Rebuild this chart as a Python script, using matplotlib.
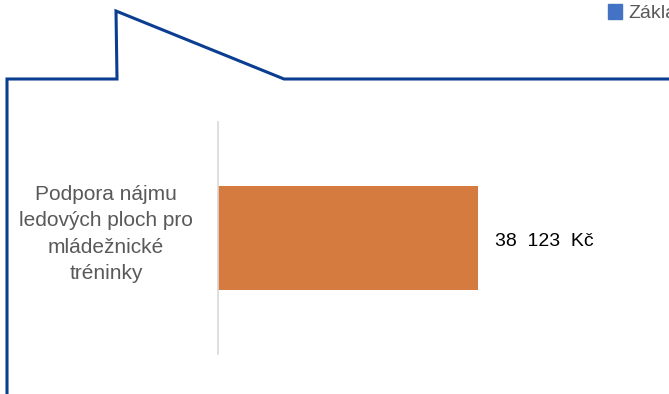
import matplotlib.pyplot as plt
from matplotlib.lines import Line2D
from matplotlib.patches import Patch

categories = ['Podpora nájmu\nledových ploch pro\nmládežnické\ntréninky']
values = [38123]
value_labels = ['38  123  Kč']
legend_label = 'Základní'

# outline shape in figure pixels (from top-left)
outline_x = [7, 7, 117, 116, 284, 669]
outline_y = [394, 79, 79, 11, 79, 79]

W, H = 669, 394
fig = plt.figure(figsize=(W / 100, H / 100), dpi=100)

ax = fig.add_axes([218 / W, 1 - 354 / H, (W - 218) / W, (354 - 122) / H])
ax.barh([0], values, height=0.448, color='#D67B3F')
ax.set_ylim(-0.5, 0.5)
ax.set_xlim(0, values[0] * (W - 218) / (478 - 218))
ax.invert_yaxis()
for s in ['top', 'right', 'bottom']:
    ax.spines[s].set_visible(False)
ax.spines['left'].set_color('#D9D9D9')
ax.spines['left'].set_linewidth(1.2)
ax.set_xticks([])
ax.set_yticks([])

for i, (v, lab) in enumerate(zip(values, value_labels)):
    ax.text(v + values[0] * 17 / 260, i + 0.015, lab, va='center', ha='left',
            fontsize=14, color='black', family='Liberation Sans')

fig.text(106 / W, 1 - 234 / H, categories[0], ha='center', va='center',
         fontsize=15, color='#595959', family='Liberation Sans', linespacing=1.5)

fig.add_artist(Line2D([x / W for x in outline_x], [1 - y / H for y in outline_y],
                      transform=fig.transFigure, color='#0B3D91', lw=2.2,
                      solid_joinstyle='miter'))

fig.legend(handles=[Patch(color='#4472C4')], labels=[legend_label],
           loc='upper left', bbox_to_anchor=(590 / W, 1 + 13 / H), frameon=False,
           handlelength=0.75, handleheight=0.75, handletextpad=0.3,
           labelcolor='#595959', prop={'family': 'Liberation Sans', 'size': 14})

fig.savefig('out.png', dpi=100)
